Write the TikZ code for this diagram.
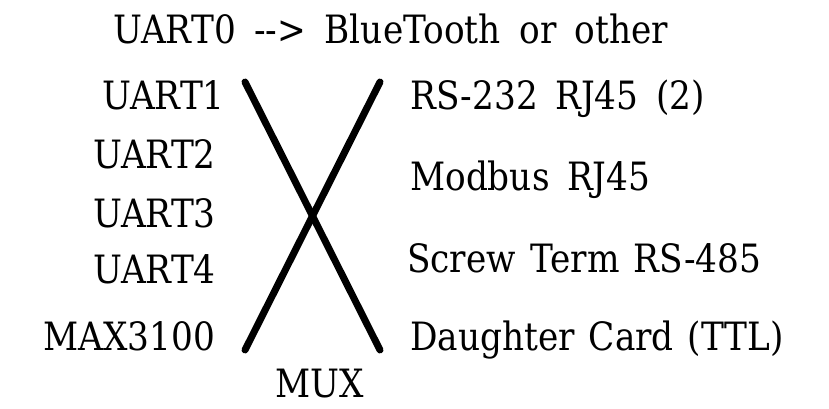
\documentclass[tikz,border=0pt]{standalone}
\usepackage{fontspec}
\setmainfont[FakeStretch=0.88]{DejaVu Serif}
\newcommand\lblfont[1]{\fontsize{39}{46}\selectfont\setlength{\spaceskip}{#1}}
\begin{document}
\begin{tikzpicture}[x=1pt,y=-1pt,
  lbl/.style={anchor=base west,inner sep=0pt,font=\lblfont{17.5pt}},
  lbltight/.style={lbl,font=\lblfont{14pt}},
  lblwide/.style={lbl,font=\lblfont{18.5pt}},
  wire/.style={line width=7pt,line cap=round}]
\useasboundingbox (0,0) rectangle (829,409);
\node[lblwide] (title) at (113,44) {UART0 -{}-{}> BlueTooth or other};
\node[lbl] (u1) at (102,110) {UART1};
\node[lbl] (u2) at (93,168) {UART2};
\node[lbl] (u3) at (93,227) {UART3};
\node[lbl] (u4) at (93,283) {UART4};
\node[lbl] (max) at (43,350) {MAX3100};
\node[lbl] (rs) at (410,110) {RS-232 RJ45 (2)};
\node[lbl] (mod) at (410,190) {Modbus RJ45};
\node[lbltight] (scr) at (407,272) {Screw Term RS-485};
\node[lbltight] (dc) at (410,350) {Daughter Card (TTL)};
\node[lbl] (mux) at (275,397) {MUX};
\coordinate (tl) at (245,82);
\coordinate (tr) at (380,82);
\coordinate (bl) at (245,350);
\coordinate (br) at (380,350);
\draw[wire] (tl) -- (br);
\draw[wire] (tr) -- (bl);
\end{tikzpicture}
\end{document}
